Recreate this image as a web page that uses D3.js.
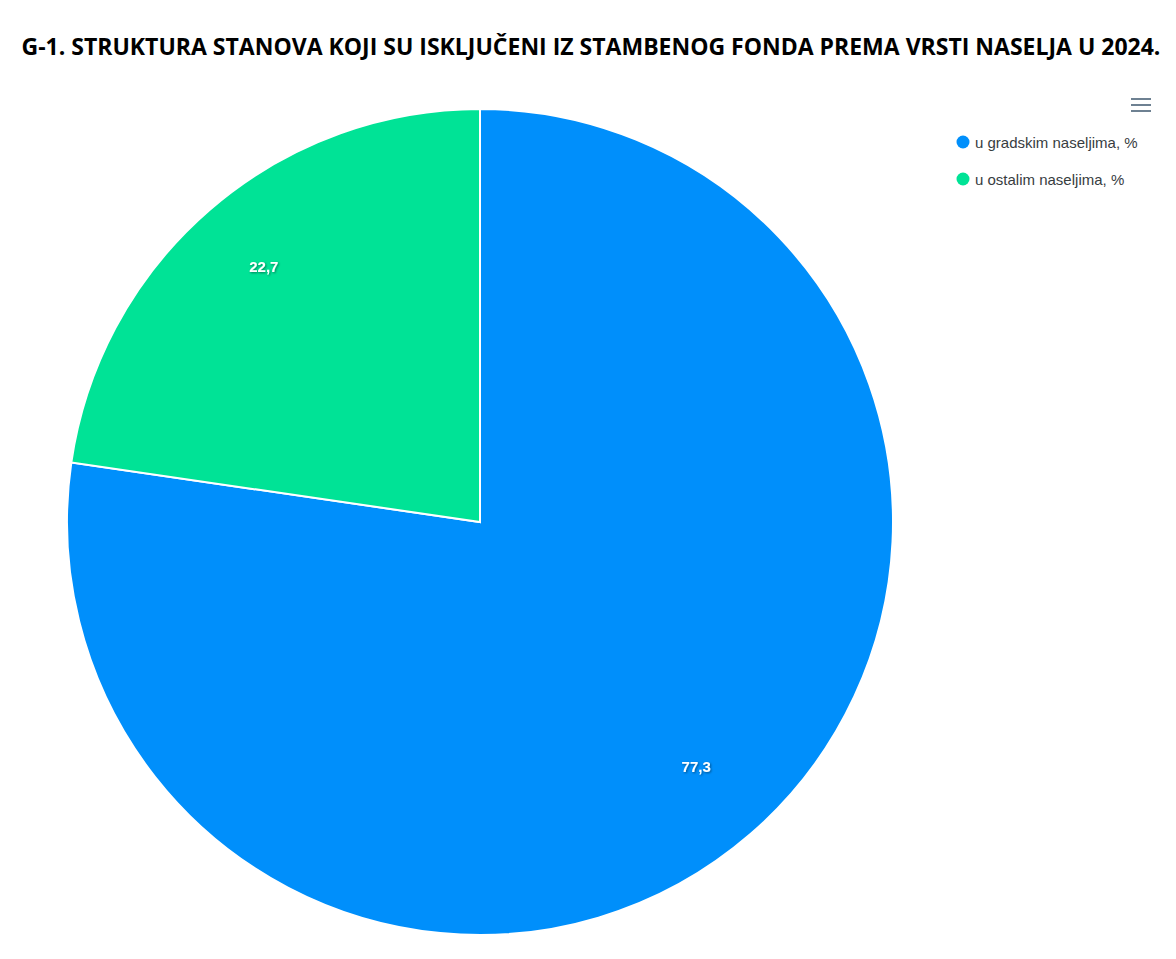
<!DOCTYPE html>
<html>
<head>
<meta charset="utf-8">
<script src="https://cdn.jsdelivr.net/npm/d3@7"></script>
<style>
  body { margin: 0; background: #fff; }
  svg { display: block; }
</style>
</head>
<body>
<svg id="chart"></svg>
<script>
const categories = ["u gradskim naseljima, %", "u ostalim naseljima, %"];
const values = [77.3, 22.7];
const colors = ["#008FFB", "#00E396"];
const title = "G-1. STRUKTURA STANOVA KOJI SU ISKLJUČENI IZ STAMBENOG FONDA PREMA VRSTI NASELJA U 2024.";

const width = 1176, height = 959;
const svg = d3.select("#chart").attr("width", width).attr("height", height);

const defs = svg.append("defs");
const f = defs.append("filter").attr("id", "shadow")
  .attr("x", "-20%").attr("y", "-20%").attr("width", "140%").attr("height", "160%");
f.append("feDropShadow").attr("dx", 1).attr("dy", 1).attr("stdDeviation", 1)
  .attr("flood-color", "#000").attr("flood-opacity", 0.45);

svg.append("text")
  .attr("x", 591).attr("y", 55)
  .attr("text-anchor", "middle")
  .style("font-family", "'Open Sans', sans-serif")
  .style("font-weight", 700)
  .style("font-size", "23px")
  .style("fill", "#000")
  .text(title);

const cx = 480, cy = 522, r = 413;
const pie = d3.pie().sort(null).value(d => d)(values);
const arc = d3.arc().innerRadius(0).outerRadius(r);
const labelArc = d3.arc().innerRadius(r * 0.80).outerRadius(r * 0.80);

const g = svg.append("g").attr("transform", `translate(${cx},${cy})`);
g.selectAll("path")
  .data(pie)
  .join("path")
  .attr("d", arc)
  .attr("fill", (d, i) => colors[i])
  .attr("stroke", "#fff")
  .attr("stroke-width", 2);

g.selectAll("text")
  .data(pie)
  .join("text")
  .attr("transform", d => `translate(${labelArc.centroid(d)})`)
  .attr("text-anchor", "middle")
  .attr("dy", "0em")
  .attr("filter", "url(#shadow)")
  .style("font-family", "'Liberation Sans', Arial, sans-serif")
  .style("font-weight", 700)
  .style("font-size", "15px")
  .style("fill", "#fff")
  .text(d => d.value.toFixed(1).replace(".", ","));

// legend
const legend = svg.append("g").attr("transform", "translate(963,142)");
const items = legend.selectAll("g")
  .data(categories)
  .join("g")
  .attr("transform", (d, i) => `translate(0,${i * 37})`);
items.append("circle").attr("r", 6.5).attr("fill", (d, i) => colors[i]);
items.append("text")
  .attr("x", 12).attr("y", 6)
  .style("font-family", "'Liberation Sans', Arial, sans-serif")
  .style("font-size", "15px")
  .style("fill", "#373d3f")
  .text(d => d);

// menu icon
const menu = svg.append("g").attr("transform", "translate(1131,99)");
[0, 6, 12].forEach(y => {
  menu.append("line").attr("x1", 0).attr("x2", 20).attr("y1", y).attr("y2", y)
    .attr("stroke", "#6E8192").attr("stroke-width", 2);
});
</script>
</body>
</html>
